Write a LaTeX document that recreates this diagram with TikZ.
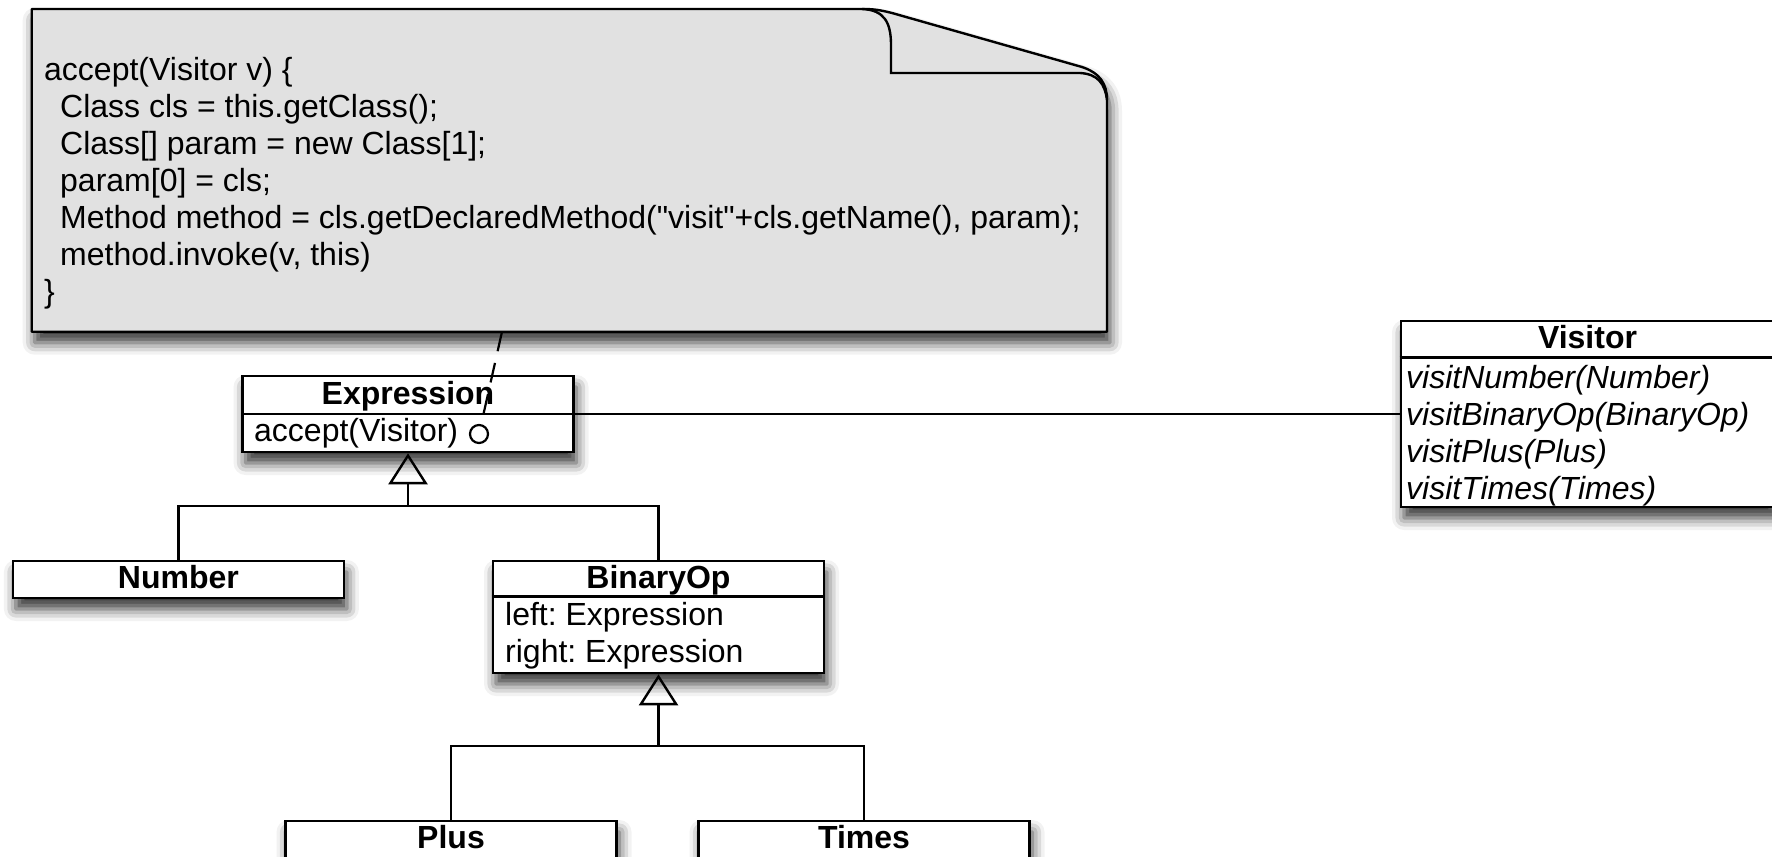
\documentclass[tikz,border=0pt]{standalone}
\usepackage{fontspec}
\newfontfamily\umlfont{Liberation Sans}
\usetikzlibrary{arrows.meta, shadows.blur}
\definecolor{notegray}{RGB}{225,225,225}
\frenchspacing

\begin{document}
\begin{tikzpicture}[x=1bp, y=-1bp,
    font=\umlfont\fontsize{32bp}{37bp}\selectfont,
    shade box/.style={blur shadow={shadow xshift=3bp, shadow yshift=-11bp, shadow blur radius=12bp, shadow opacity=80}},
    box/.style={draw, fill=white, line width=2.6bp, inner sep=0pt, minimum width=331bp, shade box},
    title/.style={anchor=base, inner sep=0pt, font=\umlfont\fontsize{32bp}{37bp}\selectfont\bfseries},
    member/.style={anchor=base west, inner sep=0pt},
    vmember/.style={anchor=base west, inner sep=0pt, font=\umlfont\fontsize{32bp}{37bp}\selectfont\itshape},
    codeline/.style={anchor=base west, inner sep=0pt},
    rule/.style={line width=2.6bp},
    link/.style={line width=2.4bp},
    inherit/.style={line width=2.4bp, -{Triangle[open, length=31bp, width=39bp]}},
    notelink/.style={line width=2.2bp, dash pattern=on 20bp off 12bp}]
    \useasboundingbox (0,0) rectangle (1772,857);
    \clip (0,0) rectangle (1772,857);

    % note with folded corner
    \filldraw[fill=notegray, line width=2.4bp, line join=round, shade box]
        (31.7,9) -- (862,9) .. controls (874,9) and (880,10) .. (892,13)
        -- (1082,67) .. controls (1100,73) and (1107,84) .. (1107,100)
        -- (1107,331.7) -- (31.7,331.7) -- cycle;
    \draw[line width=2.4bp] (862,9) .. controls (884,10) and (891,22) .. (891,45)
        -- (891,73) -- (1080,73) .. controls (1098,74) and (1105,84) .. (1107,100);
    \coordinate (notepin) at (502,331.7);

    \node[codeline] (code1) at (44,80)  {accept(Visitor v) \{};
    \node[codeline] (code2) at (60,117) {Class cls = this.getClass();};
    \node[codeline] (code3) at (60,154) {Class[] param = new Class[1];};
    \node[codeline] (code4) at (60,191) {param[0] = cls;};
    \node[codeline] (code5) at (60,228) {Method method = cls.getDeclaredMethod("visit"+cls.getName(), param);};
    \node[codeline] (code6) at (60,265) {method.invoke(v, this)};
    \node[codeline] (code7) at (44,302) {\}};

    % classes
    \node[box, minimum height=76bp]  (Expr)  at (408,414)    {};
    \node[box, minimum height=37bp]  (Num)   at (178.4,579.5) {};
    \node[box, minimum height=112bp] (Bin)   at (658.5,617)  {};
    \node[box, minimum height=37bp]  (Plus)  at (451,839.5)  {};
    \node[box, minimum height=37bp]  (Times) at (864,839.5)  {};
    \node[box, minimum width=373bp, minimum height=186bp] (Vis) at (1587.5,414) {};

    \draw[rule] (Expr.west) -- (Expr.east);
    \draw[rule] ([yshift=-37bp]Bin.north west) -- ([yshift=-37bp]Bin.north east);
    \draw[rule] ([yshift=-38bp]Vis.north west) -- ([yshift=-38bp]Vis.north east);

    \node[title] (ExprName)  at (408,404)    {Expression};
    \node[title] (NumName)   at (178.4,588)  {Number};
    \node[title] (BinName)   at (658.5,588)  {BinaryOp};
    \node[title] (PlusName)  at (451,848)    {Plus};
    \node[title] (TimesName) at (864,848)    {Times};
    \node[title] (VisName)   at (1587.5,348) {Visitor};

    \node[member] (ExprOp)   at (254,441) {accept(Visitor)};
    \node[member] (BinLeft)  at (505,625) {left: Expression};
    \node[member] (BinRight) at (505,662) {right: Expression};

    \node[vmember] (visNum)   at (1406,388) {visitNumber(Number)};
    \node[vmember] (visBin)   at (1406,425) {visitBinaryOp(BinaryOp)};
    \node[vmember] (visPlus)  at (1406,462) {visitPlus(Plus)};
    \node[vmember] (visTimes) at (1406,499) {visitTimes(Times)};

    \node[circle, draw, fill=white, line width=2.2bp, minimum size=18bp, inner sep=0pt] (acc) at (479,434) {};

    % connectors
    \coordinate (exprbus) at (408,506);
    \coordinate (binbus)  at (658.5,746);

    \draw[inherit] (Num.north) |- (exprbus) -- (Expr.south);
    \draw[link]    (Bin.north) |- (exprbus);
    \draw[inherit] (Plus.north) |- (binbus) -- (Bin.south);
    \draw[link]    (Times.north) |- (binbus);

    \draw[link] (Expr) -- (Vis);
    \draw[notelink] (notepin) -- (acc);
\end{tikzpicture}
\end{document}
